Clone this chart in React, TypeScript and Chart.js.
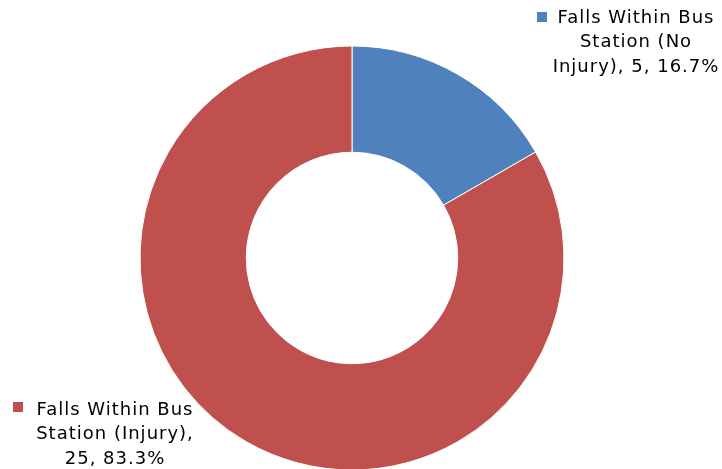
import React, { useEffect, useRef } from "react";
import { Chart, registerables } from "chart.js";

Chart.register(...registerables);

const categories = ["Falls Within Bus Station (No Injury)", "Falls Within Bus Station (Injury)"];
const values = [5, 25];
const colors = ["#4F81BD", "#C0504D"];
const labelLines = [
  ["Falls Within Bus", "Station (No", "Injury), 5, 16.7%"],
  ["Falls Within Bus", "Station (Injury),", "25, 83.3%"],
];

const FONT = "18px 'DejaVu Sans', sans-serif";

const labelPlugin = {
  id: "sliceLabels",
  afterDraw(chart: any) {
    const ctx = chart.ctx;
    ctx.save();
    ctx.font = FONT;
    try { (ctx as any).letterSpacing = "1px"; } catch (e) {}
    ctx.fillStyle = "#000";
    ctx.textAlign = "center";
    ctx.textBaseline = "middle";
    const spots = [
      { mx: 537, my: 12, cx: 636, y0: 18 },
      { mx: 13, my: 402, cx: 115, y0: 410 },
    ];
    spots.forEach((s, i) => {
      ctx.fillStyle = colors[i];
      ctx.fillRect(s.mx, s.my, 10, 10);
      ctx.fillStyle = "#000";
      labelLines[i].forEach((t, j) => ctx.fillText(t, s.cx, s.y0 + j * 24.5));
    });
    ctx.restore();
  },
};

export default function App() {
  const ref = useRef<HTMLCanvasElement | null>(null);
  useEffect(() => {
    if (!ref.current) return;
    const chart = new Chart(ref.current, {
      type: "doughnut",
      data: {
        labels: categories,
        datasets: [
          {
            data: values,
            backgroundColor: colors,
            borderColor: "#ffffff",
            borderWidth: 1,
          },
        ],
      },
      options: {
        responsive: false,
        animation: false,
        radius: 212,
        cutout: 105,
        layout: { padding: { top: 47, bottom: -2, left: 0, right: 18 } },
        plugins: { legend: { display: false }, tooltip: { enabled: false } },
      },
      plugins: [labelPlugin],
    });
    return () => chart.destroy();
  }, []);
  return (
    <div style={{ position: "fixed", left: 0, top: 0, width: 722, height: 469, background: "#fff" }}>
      <canvas ref={ref} width={722} height={469} />
    </div>
  );
}
